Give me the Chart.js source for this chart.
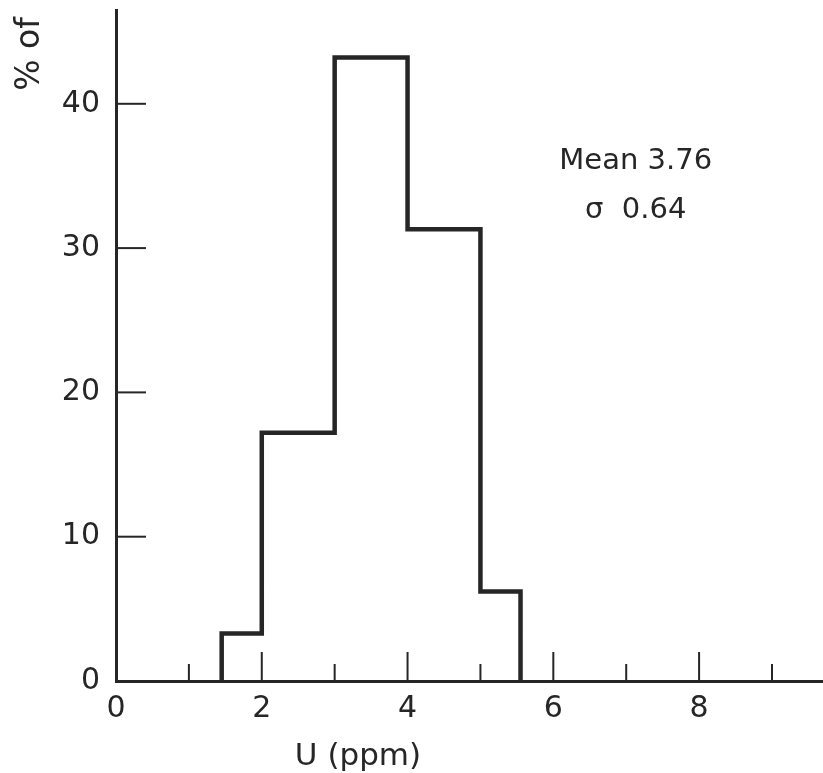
<!DOCTYPE html>
<html>
<head>
<meta charset="utf-8">
<script src="https://cdn.jsdelivr.net/npm/chart.js@4"></script>
<style>
    body { margin: 0; background: #fff; }
    #wrap { width: 823px; height: 773px; }
</style>
</head>
<body>
<div id="wrap"><canvas id="histChart" width="823" height="773"></canvas></div>
<script>
// Histogram data: bin edges (ppm) and % of samples per bin
const binEdges = [1.45, 2, 3, 4, 5, 5.55];
const percents = [3.3, 17.2, 43.2, 31.3, 6.2];

// Tick marks and labels
const xTickMarks = [1, 2, 3, 4, 5, 6, 7, 8, 9];
const yTickMarks = [10, 20, 30, 40];
const statLines = ["Mean 3.76", "\u03c3  0.64"];

const ink = "#262626";
const font = "'DejaVu Sans', sans-serif";

// Outline of the histogram built from the bins
const outline = [{ x: binEdges[0], y: 0 }];
percents.forEach((p, i) => {
    outline.push({ x: binEdges[i], y: p });
    outline.push({ x: binEdges[i + 1], y: p });
});
outline.push({ x: binEdges[binEdges.length - 1], y: 0 });

// Inward tick marks, axis title and stats text
const decorPlugin = {
    id: "decor",
    afterDatasetsDraw(chart) {
        const ctx = chart.ctx;
        const xs = chart.scales.x;
        const ys = chart.scales.y;
        const area = chart.chartArea;
        ctx.save();
        ctx.strokeStyle = ink;
        ctx.lineWidth = 2;
        yTickMarks.forEach((v) => {
            const y = ys.getPixelForValue(v);
            ctx.beginPath();
            ctx.moveTo(area.left, y);
            ctx.lineTo(area.left + 30, y);
            ctx.stroke();
        });
        xTickMarks.forEach((v) => {
            const x = xs.getPixelForValue(v);
            const len = v % 2 === 0 ? 29 : 17;
            ctx.beginPath();
            ctx.moveTo(x, area.bottom);
            ctx.lineTo(x, area.bottom - len);
            ctx.stroke();
        });

        ctx.fillStyle = ink;
        ctx.textAlign = "center";
        ctx.textBaseline = "alphabetic";
        ctx.font = "29px " + font;
        const cx = xs.getPixelForValue(7.13);
        ctx.fillText(statLines[0], cx, ys.getPixelForValue(35.5));
        ctx.fillText(statLines[1], cx, ys.getPixelForValue(32.1));

        ctx.font = "31px " + font;
        ctx.fillText("U (ppm)", xs.getPixelForValue(3.32), 765);

        ctx.font = "33px " + font;
        ctx.translate(39, 54);
        ctx.rotate(-Math.PI / 2);
        ctx.fillText("% of", 0, 0);
        ctx.restore();
    },
};

// keep the plot box fixed: no extra room for edge labels
function fixPadding(scale) {
    scale.paddingTop = 0;
    scale.paddingBottom = 0;
    scale.paddingLeft = 0;
    scale.paddingRight = 0;
}

const ctx = document.getElementById("histChart").getContext("2d");
const histChart = new Chart(ctx, {
    type: "line",
    data: {
        datasets: [
            {
                data: outline,
                borderColor: ink,
                borderWidth: 4.5,
                borderJoinStyle: "miter",
                pointRadius: 0,
                tension: 0,
                fill: false,
            },
        ],
    },
    options: {
        responsive: false,
        animation: false,
        devicePixelRatio: 1,
        layout: { padding: { top: 10, right: 0, bottom: 0, left: 0 } },
        plugins: {
            legend: { display: false },
            tooltip: { enabled: false },
        },
        scales: {
            x: {
                type: "linear",
                min: 0,
                max: 9.7,
                grid: { display: false, drawTicks: false },
                border: { display: true, color: ink, width: 3 },
                ticks: {
                    stepSize: 2,
                    includeBounds: false,
                    padding: 10,
                    color: ink,
                    font: { family: font, size: 30 },
                },
                afterFit(scale) {
                    scale.height = 92;
                    fixPadding(scale);
                },
            },
            y: {
                min: 0,
                max: 46.5,
                grid: { display: false, drawTicks: false },
                border: { display: true, color: ink, width: 3 },
                ticks: {
                    stepSize: 10,
                    includeBounds: false,
                    padding: 16,
                    color: ink,
                    font: { family: font, size: 30 },
                },
                afterFit(scale) {
                    scale.width = 116;
                    fixPadding(scale);
                },
            },
        },
    },
    plugins: [decorPlugin],
});
</script>
</body>
</html>
